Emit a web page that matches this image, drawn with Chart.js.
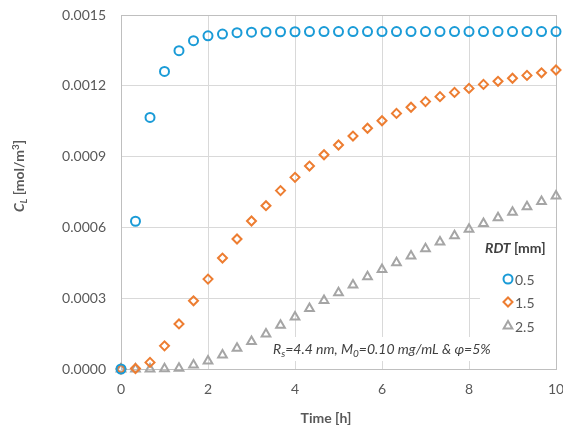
<!DOCTYPE html>
<html>
<head>
<meta charset="utf-8">
<script src="https://cdn.jsdelivr.net/npm/chart.js@4/dist/chart.umd.min.js"></script>
<style>
  html, body { margin: 0; padding: 0; background: #fff; }
  #wrap { width: 563px; height: 432px; }
</style>
</head>
<body>
<div id="wrap"><canvas id="clChart" width="563" height="432"></canvas></div>
<script>
// time points [h]
let times = [0, 0.333, 0.667, 1, 1.333, 1.667, 2, 2.333, 2.667, 3, 3.333, 3.667, 4, 4.333, 4.667, 5,
  5.333, 5.667, 6, 6.333, 6.667, 7, 7.333, 7.667, 8, 8.333, 8.667, 9, 9.333, 9.667, 10];

// C_L [mol/m3] for each RDT
let rdt05 = [0, 0.000626, 0.001066, 0.001261, 0.001349, 0.001391, 0.001412, 0.001419, 0.001425, 0.001427,
  0.001428, 0.001429, 0.001429, 0.00143, 0.00143, 0.00143, 0.00143, 0.00143, 0.00143, 0.00143, 0.00143,
  0.00143, 0.00143, 0.00143, 0.00143, 0.00143, 0.00143, 0.00143, 0.00143, 0.00143, 0.00143];
let rdt15 = [0, 0.000002, 0.000028, 0.000098, 0.000191, 0.000289, 0.000381, 0.00047, 0.000551, 0.000627,
  0.000692, 0.000756, 0.000812, 0.00086, 0.000908, 0.000949, 0.000987, 0.00102, 0.001052, 0.001083,
  0.001109, 0.001133, 0.001154, 0.001172, 0.001189, 0.001206, 0.001219, 0.001232, 0.001244, 0.001255, 0.001267];
let rdt25 = [0, 0, 0, 0.000001, 0.000003, 0.000017, 0.000034, 0.000059, 0.000088, 0.000116,
  0.000148, 0.000185, 0.00022, 0.000256, 0.00029, 0.000323, 0.000356, 0.000391, 0.000422, 0.00045,
  0.000479, 0.00051, 0.000538, 0.000565, 0.000592, 0.000617, 0.000641, 0.000664, 0.000688, 0.00071, 0.000733];

let seriesNames = ["0.5", "1.5", "2.5"];
let colors = ["#1a9bd7", "#ed7d31", "#a5a5a5"];
let styles = ["circle", "rectRot", "triangle"];
let radii = [4.5, 4.5, 5];

let fontName = "Lato, 'Open Sans', sans-serif";
let textGray = "#595959";

function toPoints(ys) {
  let pts = [];
  for (let i = 0; i < times.length; i++) {
    pts.push({ x: times[i], y: ys[i] });
  }
  return pts;
}

// draw text pieces one after another (for italic / sub / superscript parts)
function drawPieces(ctx, pieces, x, y) {
  for (let p of pieces) {
    ctx.font = p.font;
    ctx.fillText(p.text, x, y + (p.dy || 0));
    x += ctx.measureText(p.text).width;
  }
}
function piecesWidth(ctx, pieces) {
  let w = 0;
  for (let p of pieces) {
    ctx.font = p.font;
    w += ctx.measureText(p.text).width;
  }
  return w;
}

// white boxes behind legend and note, plus the plot border
let boxesPlugin = {
  id: "boxes",
  beforeDatasetsDraw(chart) {
    let ctx = chart.ctx;
    let a = chart.chartArea;
    ctx.save();
    ctx.fillStyle = "#ffffff";
    ctx.fillRect(480, 232, a.right - 480, 113);
    ctx.fillRect(270, 337, 228, 24);
    ctx.strokeStyle = "#bfbfbf";
    ctx.lineWidth = 1;
    ctx.strokeRect(Math.round(a.left) + 0.5, Math.round(a.top) + 0.5,
      Math.round(a.right - a.left), Math.round(a.bottom - a.top));
    ctx.restore();
  },
  afterDraw(chart) {
    let ctx = chart.ctx;
    ctx.save();
    ctx.textBaseline = "alphabetic";

    // note inside the plot
    ctx.fillStyle = "#404040";
    drawPieces(ctx, [
      { text: "R", font: "italic 14px " + fontName },
      { text: "s", font: "italic 10px " + fontName, dy: 3 },
      { text: "=4.4 nm, M", font: "italic 14px " + fontName },
      { text: "0", font: "italic 10px " + fontName, dy: 3 },
      { text: "=0.10 mg/mL & \u03c6=5%", font: "italic 14px " + fontName }
    ], 273, 354);

    // legend
    ctx.fillStyle = "#404040";
    drawPieces(ctx, [
      { text: "RDT", font: "bold italic 14px " + fontName },
      { text: " [mm]", font: "bold 14px " + fontName }
    ], 485, 253);
    let rowsY = [279, 302, 326];
    for (let i = 0; i < seriesNames.length; i++) {
      ctx.strokeStyle = colors[i];
      ctx.fillStyle = "rgba(0,0,0,0)";
      ctx.lineWidth = 2;
      Chart.helpers.drawPoint(ctx, { pointStyle: styles[i], radius: radii[i], borderWidth: 2, rotation: 0 }, 508, rowsY[i]);
      ctx.fillStyle = textGray;
      ctx.font = "14px " + fontName;
      ctx.textBaseline = "middle";
      ctx.fillText(seriesNames[i], 515, rowsY[i] + 1);
      ctx.textBaseline = "alphabetic";
    }

    // x axis title
    ctx.fillStyle = textGray;
    ctx.font = "bold 14px " + fontName;
    ctx.textAlign = "center";
    ctx.fillText("Time [h]", 326, 423);
    ctx.textAlign = "left";

    // y axis title, rotated
    let yPieces = [
      { text: "C", font: "bold italic 14px " + fontName },
      { text: "L", font: "bold italic 10px " + fontName, dy: 3 },
      { text: " [mol/m", font: "bold 14px " + fontName },
      { text: "3", font: "bold 10px " + fontName, dy: -5 },
      { text: "]", font: "bold 14px " + fontName }
    ];
    let w = piecesWidth(ctx, yPieces);
    ctx.translate(24, 176);
    ctx.rotate(-Math.PI / 2);
    drawPieces(ctx, yPieces, -w / 2, 0);
    ctx.restore();
  }
};

let datasets = [];
let allSeries = [rdt05, rdt15, rdt25];
for (let i = 0; i < allSeries.length; i++) {
  datasets.push({
    label: seriesNames[i],
    data: toPoints(allSeries[i]),
    showLine: false,
    pointStyle: styles[i],
    pointRadius: radii[i],
    pointHoverRadius: radii[i],
    pointBorderWidth: 2,
    borderColor: colors[i],
    backgroundColor: "rgba(0,0,0,0)",
    clip: false
  });
}

let chart = new Chart(document.getElementById("clChart").getContext("2d"), {
  type: "scatter",
  data: { datasets: datasets },
  plugins: [boxesPlugin],
  options: {
    responsive: false,
    animation: false,
    layout: { padding: { top: 15, right: 7, left: 0, bottom: 0 } },
    plugins: {
      legend: { display: false },
      tooltip: { enabled: false }
    },
    scales: {
      x: {
        type: "linear",
        min: 0,
        max: 10,
        ticks: {
          stepSize: 2,
          color: textGray,
          font: { family: fontName, size: 14 },
          padding: 12
        },
        grid: { color: "#d9d9d9", drawTicks: false },
        border: { color: "#bfbfbf" },
        afterFit(scale) {
          scale.height = 63;
          scale.paddingLeft = 0;
          scale.paddingRight = 0;
        }
      },
      y: {
        min: 0,
        max: 0.0015,
        ticks: {
          stepSize: 0.0003,
          color: textGray,
          font: { family: fontName, size: 14 },
          padding: 15,
          callback: function (v) { return Number(v).toFixed(4); }
        },
        grid: { color: "#d9d9d9", drawTicks: false },
        border: { color: "#bfbfbf" },
        afterFit(scale) {
          scale.width = 121;
          scale.paddingTop = 0;
          scale.paddingBottom = 0;
        }
      }
    }
  }
});
</script>
</body>
</html>
